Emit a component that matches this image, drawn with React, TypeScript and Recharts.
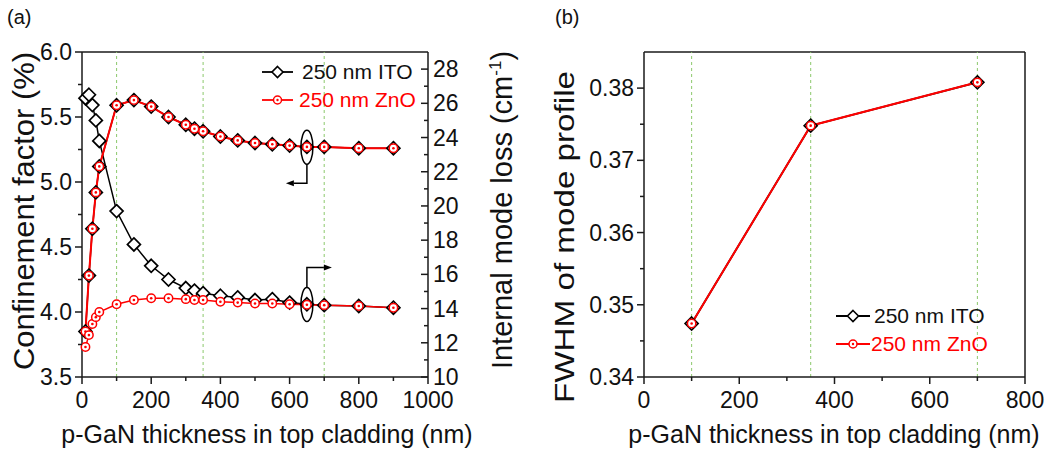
import React from 'react';
import { LineChart, Line, XAxis, YAxis, ReferenceLine, ReferenceDot } from 'recharts';

// p-GaN thickness (nm)
const thickness = [10, 20, 30, 40, 50, 100, 150, 200, 250, 300, 325, 350, 400, 450, 500, 550, 600, 650, 700, 800, 900];
// confinement factor (%), left axis
const itoConfinement = [3.85, 4.28, 4.64, 4.92, 5.12, 5.59, 5.63, 5.58, 5.5, 5.44, 5.41, 5.39, 5.35, 5.32, 5.3, 5.29, 5.28, 5.27, 5.27, 5.26, 5.26];
const znoConfinement = [3.85, 4.28, 4.64, 4.92, 5.12, 5.59, 5.63, 5.58, 5.5, 5.44, 5.41, 5.39, 5.35, 5.32, 5.3, 5.29, 5.28, 5.27, 5.27, 5.26, 5.26];
// internal mode loss (cm-1), right axis
const itoLoss = [26.3, 26.5, 25.9, 25.0, 23.8, 19.7, 17.75, 16.5, 15.7, 15.2, 15.05, 14.9, 14.75, 14.65, 14.5, 14.55, 14.35, 14.25, 14.2, 14.15, 14.05];
const znoLoss = [11.75, 12.45, 13.1, 13.5, 13.8, 14.25, 14.5, 14.6, 14.6, 14.55, 14.5, 14.5, 14.4, 14.35, 14.3, 14.3, 14.25, 14.22, 14.2, 14.15, 14.05];

// panel (b)
const fwhmThickness = [100, 350, 700];
const itoFwhm = [0.3474, 0.3748, 0.3808];
const znoFwhm = [0.3474, 0.3748, 0.3808];

const guideLines = [100, 350, 700];

const xTicksA = [0, 100, 200, 300, 400, 500, 600, 700, 800, 900, 1000];
const confTicks = [3.5, 3.75, 4.0, 4.25, 4.5, 4.75, 5.0, 5.25, 5.5, 5.75, 6.0];
const lossTicks = [10, 11, 12, 13, 14, 15, 16, 17, 18, 19, 20, 21, 22, 23, 24, 25, 26, 27, 28];
const xTicksB = [0, 100, 200, 300, 400, 500, 600, 700, 800];
const fwhmTicks = [0.34, 0.345, 0.35, 0.355, 0.36, 0.365, 0.37, 0.375, 0.38];

const dataA = thickness.map((t, i) => ({
  t,
  itoConf: itoConfinement[i],
  znoConf: znoConfinement[i],
  itoLoss: itoLoss[i],
  znoLoss: znoLoss[i],
}));
const dataB = fwhmThickness.map((t, i) => ({ t, ito: itoFwhm[i], zno: znoFwhm[i] }));

const FONT = '"Liberation Sans", Arial, sans-serif';
const AXIS = '#1a1a1a';
const RED = '#ff0000';
const GREEN = '#8cc86c';

const isMult = (v: number, step: number) => Math.abs(v / step - Math.round(v / step)) < 1e-6;

const makeTick = (side: 'bottom' | 'left' | 'right', step: number, fmt: (v: number) => string) => (props: any) => {
  const { x, y, payload } = props;
  const v = payload.value;
  const major = isMult(v, step);
  const len = major ? 7 : 4;
  if (side === 'bottom') {
    return (
      <g>
        <line x1={x} y1={y} x2={x} y2={y + len} stroke={AXIS} strokeWidth={1.5} />
        {major && (
          <text x={x} y={y + 31} textAnchor="middle" fontSize={23} fontFamily={FONT} fill="#111">
            {fmt(v)}
          </text>
        )}
      </g>
    );
  }
  if (side === 'left') {
    return (
      <g>
        <line x1={x - len} y1={y} x2={x} y2={y} stroke={AXIS} strokeWidth={1.5} />
        {major && (
          <text x={x - 10} y={y + 8} textAnchor="end" fontSize={23} fontFamily={FONT} fill="#111">
            {fmt(v)}
          </text>
        )}
      </g>
    );
  }
  return (
    <g>
      <line x1={x - len} y1={y} x2={x} y2={y} stroke={AXIS} strokeWidth={1.5} />
      {major && (
        <text x={x + 5} y={y + 8} textAnchor="start" fontSize={23} fontFamily={FONT} fill="#111">
          {fmt(v)}
        </text>
      )}
    </g>
  );
};

const diamondPath = (cx: number, cy: number, r = 6.5) =>
  `M${cx},${cy - r} L${cx + r},${cy} L${cx},${cy + r} L${cx - r},${cy} Z`;

const renderDiamond = (p: any) => {
  if (p.cx == null || p.cy == null) return <g key={`d-${p.index}`} />;
  return <path key={`d-${p.index}`} d={diamondPath(p.cx, p.cy)} fill="#fff" stroke="#000" strokeWidth={1.7} />;
};

const renderCircle = (p: any) => {
  if (p.cx == null || p.cy == null) return <g key={`c-${p.index}`} />;
  return (
    <g key={`c-${p.index}`}>
      <circle cx={p.cx} cy={p.cy} r={4.2} fill="#fff" stroke={RED} strokeWidth={1.5} />
      <circle cx={p.cx} cy={p.cy} r={1.3} fill={RED} />
    </g>
  );
};

// legend drawn in page coordinates
const LegendBox = ({ x, y, lineLen, gap }: { x: number; y: number; lineLen: number; gap: number }) => (
  <g>
    <line x1={x} y1={y} x2={x + lineLen} y2={y} stroke="#000" strokeWidth={1.8} />
    <path d={diamondPath(x + lineLen / 2, y, 5.5)} fill="#fff" stroke="#000" strokeWidth={1.6} />
    <text x={x + lineLen + gap} y={y + 7} fontSize={21} fontFamily={FONT} fill="#111">250 nm ITO</text>
    <line x1={x} y1={y + 28} x2={x + lineLen} y2={y + 28} stroke={RED} strokeWidth={1.8} />
    <circle cx={x + lineLen / 2} cy={y + 28} r={4} fill="#fff" stroke={RED} strokeWidth={1.5} />
    <circle cx={x + lineLen / 2} cy={y + 28} r={1.2} fill={RED} />
    <text x={x + lineLen + gap - 3} y={y + 35} fontSize={21} fontFamily={FONT} fill={RED}>250 nm ZnO</text>
  </g>
);

const EllipseLeft = (p: any) => (
  <g>
    <ellipse cx={p.cx} cy={p.cy} rx={6} ry={17} fill="none" stroke="#000" strokeWidth={1.5} />
    <path d={`M${p.cx},${p.cy + 17} V${p.cy + 36} H${p.cx - 13}`} fill="none" stroke="#000" strokeWidth={1.5} />
    <path d={`M${p.cx - 21},${p.cy + 36} L${p.cx - 13},${p.cy + 33} L${p.cx - 13},${p.cy + 39} Z`} fill="#000" />
  </g>
);

const EllipseRight = (p: any) => (
  <g>
    <ellipse cx={p.cx} cy={p.cy} rx={6} ry={17} fill="none" stroke="#000" strokeWidth={1.5} />
    <path d={`M${p.cx},${p.cy - 17} V${p.cy - 37} H${p.cx + 17}`} fill="none" stroke="#000" strokeWidth={1.5} />
    <path d={`M${p.cx + 25},${p.cy - 37} L${p.cx + 17},${p.cy - 40} L${p.cx + 17},${p.cy - 34} Z`} fill="#000" />
  </g>
);

export default function App() {
  return (
    <div style={{ position: 'absolute', left: 0, top: 0, width: 1060, height: 455, background: '#fff', fontFamily: FONT }}>
      <div style={{ position: 'absolute', left: 0, top: 0 }}>
        <LineChart width={540} height={455} data={dataA} margin={{ top: 52, right: 52, bottom: 48, left: 22 }}>
          <XAxis
            dataKey="t"
            type="number"
            domain={[0, 1000]}
            ticks={xTicksA}
            interval={0}
            tickSize={0}
            tickMargin={0}
            height={30}
            stroke={AXIS}
            strokeWidth={1.5}
            tick={makeTick('bottom', 200, (v) => String(v))}
          />
          <YAxis
            yAxisId="left"
            domain={[3.5, 6.0]}
            ticks={confTicks}
            interval={0}
            tickSize={0}
            tickMargin={0}
            width={60}
            stroke={AXIS}
            strokeWidth={1.5}
            tick={makeTick('left', 0.5, (v) => v.toFixed(1))}
          />
          <YAxis
            yAxisId="right"
            orientation="right"
            domain={[10, 29]}
            ticks={lossTicks}
            interval={0}
            tickSize={0}
            tickMargin={0}
            width={60}
            stroke={AXIS}
            strokeWidth={1.5}
            tick={makeTick('right', 2, (v) => String(v))}
          />
          <ReferenceLine yAxisId="left" y={6.0} stroke={AXIS} strokeWidth={1.5} />
          {guideLines.map((g) => (
            <ReferenceLine key={g} yAxisId="left" x={g} stroke={GREEN} strokeDasharray="3 3" strokeWidth={1} />
          ))}
          <Line yAxisId="left" dataKey="itoConf" stroke="#000" strokeWidth={1.5} dot={renderDiamond} isAnimationActive={false} />
          <Line yAxisId="right" dataKey="itoLoss" stroke="#000" strokeWidth={1.5} dot={renderDiamond} isAnimationActive={false} />
          <Line yAxisId="left" dataKey="znoConf" stroke={RED} strokeWidth={2} dot={renderCircle} isAnimationActive={false} />
          <Line yAxisId="right" dataKey="znoLoss" stroke={RED} strokeWidth={1.5} dot={renderCircle} isAnimationActive={false} />
          <ReferenceDot yAxisId="left" x={650} y={5.267} shape={EllipseLeft} />
          <ReferenceDot yAxisId="left" x={650} y={4.057} shape={EllipseRight} />
        </LineChart>
      </div>

      <div style={{ position: 'absolute', left: 540, top: 0 }}>
        <LineChart width={520} height={455} data={dataB} margin={{ top: 52, right: 35, bottom: 48, left: 44 }}>
          <XAxis
            dataKey="t"
            type="number"
            domain={[0, 800]}
            ticks={xTicksB}
            interval={0}
            tickSize={0}
            tickMargin={0}
            height={30}
            stroke={AXIS}
            strokeWidth={1.5}
            tick={makeTick('bottom', 200, (v) => String(v))}
          />
          <YAxis
            domain={[0.34, 0.385]}
            ticks={fwhmTicks}
            interval={0}
            tickSize={0}
            tickMargin={0}
            width={60}
            stroke={AXIS}
            strokeWidth={1.5}
            tick={makeTick('left', 0.01, (v) => v.toFixed(2))}
          />
          <ReferenceLine y={0.385} stroke={AXIS} strokeWidth={1.5} />
          <ReferenceLine x={800} stroke={AXIS} strokeWidth={1.5} />
          {guideLines.map((g) => (
            <ReferenceLine key={g} x={g} stroke={GREEN} strokeDasharray="3 3" strokeWidth={1} />
          ))}
          <Line dataKey="ito" stroke="#000" strokeWidth={1.8} dot={renderDiamond} isAnimationActive={false} />
          <Line dataKey="zno" stroke={RED} strokeWidth={2} dot={renderCircle} isAnimationActive={false} />
        </LineChart>
      </div>

      <svg width={1060} height={455} style={{ position: 'absolute', left: 0, top: 0, pointerEvents: 'none' }}>
        <LegendBox x={262} y={72} lineLen={31} gap={9} />
        <LegendBox x={836} y={316} lineLen={34} gap={4} />
        <g fontFamily={FONT} fill="#111">
          <text x={7} y={24} fontSize={20}>(a)</text>
          <text x={555} y={24} fontSize={20}>(b)</text>
          <text x={267} y={443} fontSize={25} textAnchor="middle">p-GaN thickness in top cladding (nm)</text>
          <text x={834} y={443} fontSize={25} textAnchor="middle">p-GaN thickness in top cladding (nm)</text>
          <text x={34} y={211} fontSize={29} textAnchor="middle" textLength={318} lengthAdjust="spacingAndGlyphs" transform="rotate(-90 34 211)">
            Confinement factor (%)
          </text>
          <text x={512} y={210} fontSize={29} textAnchor="middle" transform="rotate(-90 512 210)">
            Internal mode loss (cm<tspan fontSize={17} dy={-11}>-1</tspan><tspan dy={11}>)</tspan>
          </text>
          <text x={574} y={237} fontSize={27} textAnchor="middle" textLength={332} lengthAdjust="spacingAndGlyphs" transform="rotate(-90 574 237)">
            FWHM of mode profile
          </text>
        </g>
      </svg>
    </div>
  );
}
